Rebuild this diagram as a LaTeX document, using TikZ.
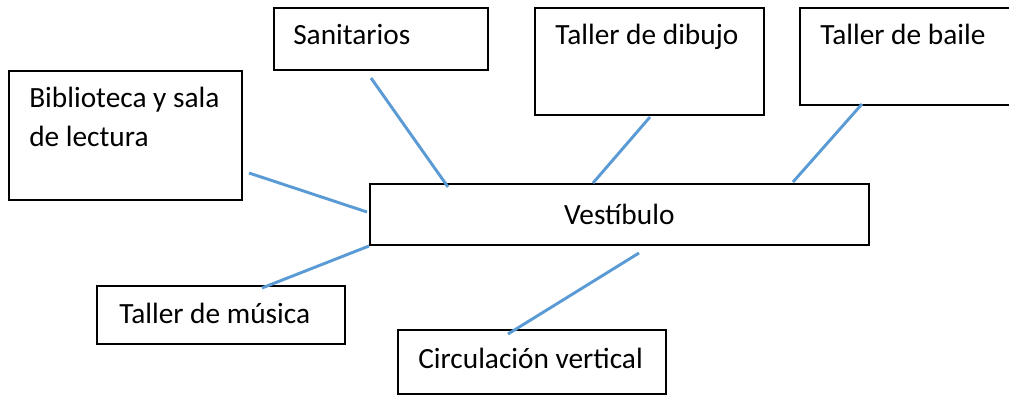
\documentclass[tikz,border=0pt]{standalone}
\usepackage{fontspec}
\setmainfont{Carlito}
\usetikzlibrary{calc}
\definecolor{linkblue}{HTML}{5B9BD5}
\tikzset{
  room/.style={draw, line width=1.3pt, anchor=north west, inner sep=0pt},
  roomname/.style={anchor=base west, inner sep=0pt, align=left},
  link/.style={linkblue, line width=2.2pt}
}

\begin{document}
\begin{tikzpicture}[x=0.75pt, y=-0.75pt, font=\fontsize{22}{29.25}\selectfont]
\useasboundingbox (0,0) rectangle (1009,395);
\clip (0,0) rectangle (1009,395);

% rooms
\node[room, minimum width=160.5pt, minimum height=46.5pt] (sani) at (273,7) {};
\node[room, minimum width=171.75pt, minimum height=80.25pt] (dibujo) at (534,7) {};
\node[room, minimum width=170pt, minimum height=72.75pt] (baile) at (799,7) {};
\node[room, minimum width=174.75pt, minimum height=96.75pt] (biblio) at (8,70) {};
\node[room, minimum width=374.25pt, minimum height=45.75pt] (vest) at (369,183) {Vestíbulo};
\node[room, minimum width=186pt, minimum height=43.5pt] (musica) at (96,285) {};
\node[room, minimum width=201pt, minimum height=48pt] (circ) at (397,329) {};

% names (base of the last line)
\node[roomname] (sani-t) at ($(sani.north west)+(20,38)$) {Sanitarios};
\node[roomname] (dibujo-t) at ($(dibujo.north west)+(21,38)$) {Taller de dibujo};
\node[roomname] (baile-t) at ($(baile.north west)+(21,38)$) {Taller de baile};
\node[roomname] (biblio-t) at ($(biblio.north west)+(21,77)$) {Biblioteca y sala\\de lectura};
\node[roomname] (musica-t) at ($(musica.north west)+(23,38)$) {Taller de música};
\node[roomname] (circ-t) at ($(circ.north west)+(21,39)$) {Circulación vertical};

% links to the hall
\coordinate (sani-a) at (371,78);   \coordinate (sani-b) at (448,187);
\coordinate (biblio-a) at (249,173); \coordinate (biblio-b) at (367,212);
\coordinate (dibujo-a) at (650,117); \coordinate (dibujo-b) at (593,183);
\coordinate (baile-a) at (862,104);  \coordinate (baile-b) at (793,182);
\coordinate (musica-a) at (262,288); \coordinate (musica-b) at (369,246);
\coordinate (circ-a) at (508,334);   \coordinate (circ-b) at (639,253);

\draw[link] (sani-a) -- (sani-b);
\draw[link] (biblio-a) -- (biblio-b);
\draw[link] (dibujo-a) -- (dibujo-b);
\draw[link] (baile-a) -- (baile-b);
\draw[link] (musica-a) -- (musica-b);
\draw[link] (circ-a) -- (circ-b);
\end{tikzpicture}
\end{document}
